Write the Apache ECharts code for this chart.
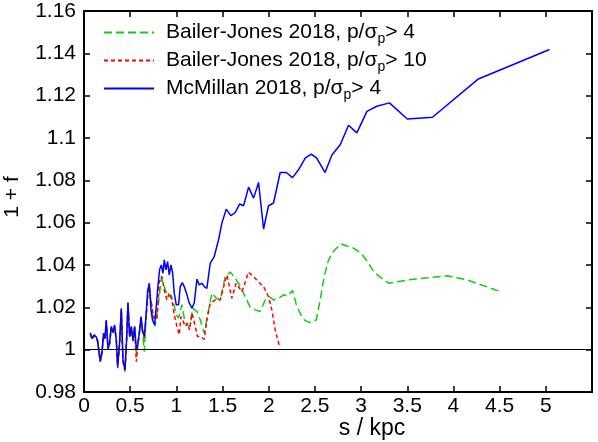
<!DOCTYPE html>
<html>
<head>
<meta charset="utf-8">
<script src="https://cdn.jsdelivr.net/npm/echarts@6/dist/echarts.min.js"></script>
<style>
    html, body { margin: 0; padding: 0; background: #fff; }
    #chart { width: 598px; height: 442px; }
</style>
</head>
<body>
<div id="chart"></div>
<script>
    // distance s in kpc and 1 + f
    const mcmS = [0.068, 0.087, 0.11, 0.133, 0.147, 0.176, 0.195, 0.212, 0.227, 0.241, 0.26, 0.277, 0.295, 0.314, 0.331, 0.35,
        0.364, 0.385, 0.404, 0.422, 0.444, 0.461, 0.476, 0.494, 0.512, 0.53, 0.548, 0.566, 0.584, 0.602, 0.617, 0.634,
        0.653, 0.671, 0.689, 0.707, 0.725, 0.742, 0.764, 0.782, 0.80, 0.818, 0.837, 0.855, 0.869, 0.887, 0.905, 0.923,
        0.942, 0.96, 0.977, 0.999, 1.024, 1.042, 1.064, 1.085, 1.115, 1.14, 1.169, 1.194, 1.223, 1.248, 1.277, 1.302,
        1.33, 1.367, 1.41, 1.457, 1.493, 1.54, 1.59, 1.637, 1.684, 1.728, 1.782, 1.836, 1.89, 1.944, 1.998, 2.052,
        2.124, 2.19, 2.258, 2.33, 2.395, 2.46, 2.52, 2.61, 2.684, 2.774, 2.864, 2.954, 3.063, 3.17, 3.307, 3.5,
        3.773, 4.27, 5.04]
    const mcmF = [1.008, 1.0054, 1.007, 1.006, 1.0043, 0.9943, 0.999, 1.0078, 1.0054, 1.014, 1.0007, 1.003, 1.011, 1.0085, 1.0117, 1.0046,
        0.992, 1.003, 1.0196, 0.995, 0.9904, 1.0046, 1.022, 1.0063, 1.011, 1.0046, 1.011, 1.0, 1.003, 1.009, 1.0156, 1.009,
        1.0063, 1.0156, 1.0274, 1.0314, 1.0188, 1.014, 1.0117, 1.0203, 1.0298, 1.0377, 1.04, 1.0361, 1.0424, 1.0377, 1.0416, 1.0353,
        1.04, 1.0361, 1.0267, 1.0212, 1.0212, 1.0298, 1.0317, 1.0298, 1.0259, 1.022, 1.0196, 1.0222, 1.0333, 1.0306, 1.0314, 1.0298,
        1.029, 1.0409, 1.044, 1.0519, 1.0598, 1.0664, 1.0633, 1.0648, 1.0688, 1.068, 1.0768, 1.0716, 1.079, 1.057, 1.068, 1.0693,
        1.0837, 1.0837, 1.0813, 1.0855, 1.0905, 1.0924, 1.0905, 1.0837, 1.092, 1.0968, 1.106, 1.1024, 1.1126, 1.115, 1.1166, 1.109,
        1.1098, 1.1279, 1.1418]

    const bj4S = [0.068, 0.087, 0.11, 0.133, 0.147, 0.176, 0.195, 0.212, 0.227, 0.241, 0.26, 0.277, 0.295, 0.314, 0.331, 0.35,
        0.364, 0.385, 0.404, 0.422, 0.444, 0.461, 0.476, 0.494, 0.512, 0.53, 0.548, 0.566, 0.584, 0.602, 0.617, 0.634,
        0.653, 0.671, 0.689, 0.707, 0.746, 0.77, 0.808, 0.837, 0.869, 0.887, 0.916, 0.942, 0.97, 0.999, 1.024, 1.06,
        1.089, 1.115, 1.15, 1.175, 1.223, 1.259, 1.302, 1.349, 1.385, 1.432, 1.475, 1.529, 1.583, 1.637, 1.684, 1.746,
        1.80, 1.854, 1.908, 1.962, 2.008, 2.052, 2.106, 2.16, 2.204, 2.258, 2.305, 2.36, 2.395, 2.449, 2.514, 2.557,
        2.60, 2.647, 2.70, 2.78, 2.846, 2.918, 2.998, 3.07, 3.134, 3.207, 3.297, 3.513, 3.93, 4.145, 4.51]
    const bj4F = [1.007, 1.005, 1.0065, 1.0055, 1.004, 0.995, 0.999, 1.007, 1.005, 1.013, 1.0005, 1.003, 1.0105, 1.008, 1.011, 1.004,
        0.9925, 1.003, 1.019, 0.995, 0.991, 1.005, 1.0225, 1.006, 1.0105, 1.004, 1.0105, 0.9985, 1.003, 1.009, 1.015, 1.0085,
        0.999, 1.015, 1.027, 1.0306, 1.0156, 1.011, 1.0227, 1.0338, 1.03, 1.0274, 1.025, 1.0259, 1.022, 1.0164, 1.0149, 1.0212,
        1.014, 1.0117, 1.011, 1.0196, 1.018, 1.014, 1.0078, 1.0188, 1.0267, 1.0243, 1.0235, 1.0345, 1.0367, 1.0338, 1.0306, 1.025,
        1.02, 1.0188, 1.018, 1.0235, 1.025, 1.0235, 1.0243, 1.0259, 1.0254, 1.028, 1.0203, 1.0156, 1.0137, 1.0128, 1.014, 1.0235,
        1.0345, 1.0424, 1.0464, 1.05, 1.049, 1.048, 1.0456, 1.0416, 1.037, 1.0343, 1.0314, 1.033, 1.0349, 1.033, 1.0274]

    const bj10S = [0.068, 0.087, 0.11, 0.133, 0.147, 0.176, 0.195, 0.212, 0.227, 0.241, 0.26, 0.277, 0.295, 0.314, 0.331, 0.35,
        0.364, 0.385, 0.404, 0.422, 0.444, 0.461, 0.476, 0.494, 0.512, 0.53, 0.548, 0.566, 0.584, 0.602, 0.617, 0.634,
        0.653, 0.671, 0.70, 0.753, 0.79, 0.818, 0.844, 0.869, 0.898, 0.923, 0.952, 0.977, 1.006, 1.031, 1.05, 1.07,
        1.096, 1.121, 1.143, 1.169, 1.197, 1.229, 1.259, 1.302, 1.33, 1.367, 1.421, 1.475, 1.512, 1.548, 1.60, 1.647,
        1.71, 1.746, 1.78, 1.836, 1.89, 1.944, 1.998, 2.034, 2.07, 2.115]
    const bj10F = [1.0075, 1.005, 1.0065, 1.0055, 1.004, 0.9945, 0.9985, 1.007, 1.005, 1.0135, 1.0, 1.0025, 1.0105, 1.008, 1.011, 1.004,
        0.9912, 1.0025, 1.019, 0.9945, 0.9896, 1.0045, 1.0215, 1.006, 1.0105, 1.004, 1.0105, 0.9943, 1.0025, 1.0085, 1.015, 1.0085,
        1.0055, 1.015, 1.0298, 1.0156, 1.014, 1.0338, 1.0345, 1.0282, 1.0235, 1.0267, 1.0235, 1.0164, 1.011, 1.007, 1.0156, 1.014,
        1.011, 1.0125, 1.0093, 1.0172, 1.0125, 1.0062, 1.0062, 1.0049, 1.014, 1.022, 1.0235, 1.0235, 1.0298, 1.0353, 1.0243, 1.0314,
        1.0274, 1.032, 1.0366, 1.0345, 1.032, 1.0298, 1.025, 1.0188, 1.0093, 1.0018]

    const xTicks = {min: 0, max: 5.5, interval: 0.5}
    const yTicks = {min: 0.98, max: 1.16, interval: 0.02}

    const legendText = {
        'Bailer-Jones 2018, p/σp> 4': 'Bailer-Jones 2018, p/σ{sub|p}> 4',
        'Bailer-Jones 2018, p/σp> 10': 'Bailer-Jones 2018, p/σ{sub|p}> 10',
        'McMillan 2018, p/σp> 4': 'McMillan 2018, p/σ{sub|p}> 4'
    }

    const zip = (xs, ys) => xs.map((x, i) => [x, ys[i]])
    const font = 'Liberation Sans'

    const frameLine = {show: true, onZero: false, lineStyle: {color: '#000', width: 2}}
    const tick = {show: true, inside: true, length: 6, lineStyle: {color: '#000', width: 1.5}}

    const chart = echarts.init(document.getElementById('chart'))
    chart.setOption({
        animation: false,
        textStyle: {fontFamily: font},
        grid: {left: 84, right: 6, top: 11, bottom: 50},
        legend: {
            orient: 'vertical',
            left: 103,
            top: 19,
            padding: 0,
            itemWidth: 50,
            itemHeight: 14,
            itemGap: 1,
            itemStyle: {opacity: 0},
            formatter: name => legendText[name],
            textStyle: {
                fontFamily: font, fontSize: 21, color: '#000', lineHeight: 27, padding: [0, 0, 0, 7],
                rich: {sub: {fontFamily: font, fontSize: 14, lineHeight: 14, verticalAlign: 'bottom'}}
            }
        },
        xAxis: [
            {
                type: 'value', position: 'bottom', ...xTicks,
                axisLine: frameLine, axisTick: tick, splitLine: {show: false},
                axisLabel: {
                    color: '#000', fontSize: 21, fontFamily: font, margin: 4,
                    formatter: v => (v > 5.01 ? '' : String(v))
                }
            },
            {
                type: 'value', position: 'top', ...xTicks,
                axisLine: frameLine, axisTick: tick, splitLine: {show: false}, axisLabel: {show: false}
            }
        ],
        yAxis: [
            {
                type: 'value', position: 'left', ...yTicks,
                axisLine: frameLine, axisTick: tick, splitLine: {show: false},
                axisLabel: {color: '#000', fontSize: 21, fontFamily: font, margin: 8}
            },
            {
                type: 'value', position: 'right', ...yTicks,
                axisLine: frameLine, axisTick: tick, splitLine: {show: false}, axisLabel: {show: false}
            }
        ],
        graphic: [
            {
                type: 'text', x: 12, y: 197, rotation: Math.PI / 2,
                style: {text: '1 + f', fontFamily: font, fontSize: 21, fill: '#000', align: 'center', verticalAlign: 'middle'}
            },
            {
                type: 'text', x: 372, y: 429,
                style: {text: 's / kpc', fontFamily: font, fontSize: 23, fill: '#000', align: 'center', verticalAlign: 'middle'}
            }
        ],
        series: [
            {
                name: 'Bailer-Jones 2018, p/σp> 4',
                type: 'line',
                data: zip(bj4S, bj4F),
                symbol: 'none',
                lineStyle: {color: '#11cc11', width: 1.5, type: [8, 4]},
                itemStyle: {color: '#11cc11'}
            },
            {
                name: 'Bailer-Jones 2018, p/σp> 10',
                type: 'line',
                data: zip(bj10S, bj10F),
                symbol: 'none',
                lineStyle: {color: '#ff0000', width: 1.5, type: [4, 3]},
                itemStyle: {color: '#ff0000'}
            },
            {
                name: 'McMillan 2018, p/σp> 4',
                type: 'line',
                data: zip(mcmS, mcmF),
                symbol: 'none',
                lineStyle: {color: '#0000ff', width: 1.5},
                itemStyle: {color: '#0000ff'},
                markLine: {
                    silent: true,
                    symbol: 'none',
                    label: {show: false},
                    lineStyle: {color: '#000', width: 1, type: 'solid'},
                    data: [{yAxis: 1}]
                }
            }
        ]
    })
</script>
</body>
</html>
